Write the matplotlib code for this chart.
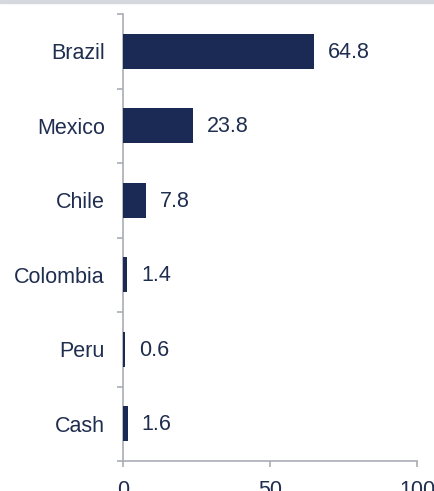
import matplotlib
matplotlib.use("Agg")
import matplotlib.pyplot as plt
import numpy as np

categories = ["Brazil", "Mexico", "Chile", "Colombia", "Peru", "Cash"]
values = [64.8, 23.8, 7.8, 1.4, 0.6, 1.6]
xticks = [0, 50, 100]

bar_color = "#1B2A55"
axis_color = "#A9ADB5"
text_color = "#1F2D4F"

plt.rcParams['font.family'] = ['Liberation Sans', 'DejaVu Sans']
FS = 15.5

W, H = 434, 491
fig = plt.figure(figsize=(W / 100, H / 100), dpi=100)
ax = fig.add_axes([123 / W, 1 - 461 / H, (417 - 123) / W, (461 - 14) / H])

n = len(categories)
ypos = np.arange(n)
ax.barh(ypos, values, height=0.47, color=bar_color, zorder=3)
ax.set_ylim(n - 0.5, -0.5)
ax.set_xlim(0, 100)

for y, v in zip(ypos, values):
    ax.annotate(f"{v:.1f}", (v, y), xytext=(14, -1), textcoords="offset pixels",
                va="center", ha="left", fontsize=FS, color=text_color)

ax.set_yticks(ypos)
ax.set_yticklabels(categories, fontsize=FS, color=text_color)
ax.tick_params(axis='y', which='major', length=0, pad=13)
ax.set_yticks(np.arange(-0.5, n + 0.5, 1), minor=True)
ax.tick_params(axis='y', which='minor', length=4, width=1.2, color=axis_color, direction='out')

ax.set_xticks(xticks)
ax.set_xticklabels([str(t) for t in xticks], fontsize=FS, color=text_color)
ax.tick_params(axis='x', which='major', length=4.5, width=1.2, color=axis_color, pad=9)

for s in ['top', 'right']:
    ax.spines[s].set_visible(False)
for s in ['left', 'bottom']:
    ax.spines[s].set_color(axis_color)
    ax.spines[s].set_linewidth(1.2)

# top gray band
fig.patches.append(plt.Rectangle((0, 1 - 3 / H), 1, 3 / H, transform=fig.transFigure,
                                 color="#D5D8DE", zorder=0))

fig.savefig("out.png", dpi=100)
